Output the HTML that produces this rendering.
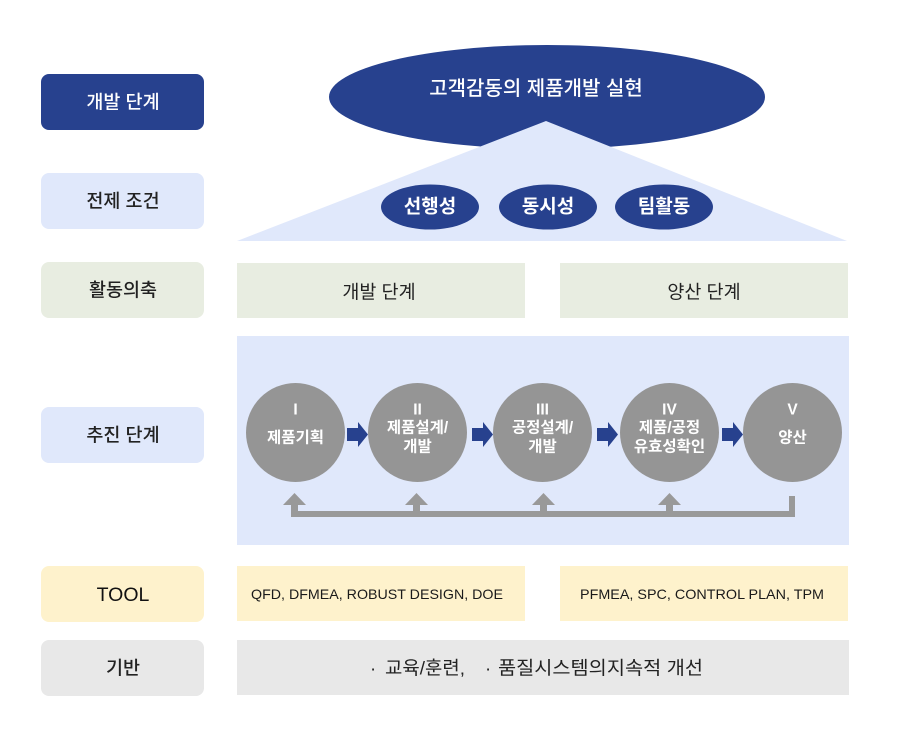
<!DOCTYPE html>
<html>
<head>
<meta charset="utf-8">
<style>
  html,body{margin:0;padding:0;background:#fff;}
  svg{display:block;}
  text{font-family:"Liberation Sans","Noto Sans CJK KR",sans-serif;}
</style>
</head>
<body>
<svg width="898" height="733" viewBox="0 0 898 733" xmlns="http://www.w3.org/2000/svg">
  <!-- left labels -->
  <rect x="41" y="74" width="163" height="56" rx="8" fill="#27418e"/>
  <rect x="41" y="173" width="163" height="56" rx="8" fill="#e0e8fb"/>
  <rect x="41" y="262" width="163" height="56" rx="8" fill="#e8ede1"/>
  <rect x="41" y="407" width="163" height="56" rx="8" fill="#e0e8fb"/>
  <rect x="41" y="566" width="163" height="56" rx="8" fill="#fef2cc"/>
  <rect x="41" y="640" width="163" height="56" rx="8" fill="#e8e8e8"/>
  <g font-size="18.5" text-anchor="middle" dominant-baseline="central" font-weight="500">
    <text x="123" y="102" fill="#ffffff">개발 단계</text>
    <text x="123" y="201" fill="#222">전제 조건</text>
    <text x="123" y="290" fill="#222">활동의축</text>
    <text x="123" y="435" fill="#222">추진 단계</text>
    <text x="123" y="595" fill="#111" font-size="19.5">TOOL</text>
    <text x="123" y="668" fill="#222">기반</text>
  </g>

  <!-- top ellipse + triangle -->
  <ellipse cx="547" cy="97" rx="218" ry="52" fill="#27418e"/>
  <polygon points="546,121 237,241 847,241" fill="#e0e8fb"/>
  <text x="536" y="89" fill="#fff" font-size="20" text-anchor="middle" dominant-baseline="central" font-weight="500">고객감동의 제품개발 실현</text>

  <ellipse cx="430" cy="207" rx="49" ry="22.5" fill="#27418e"/>
  <ellipse cx="548" cy="207" rx="49" ry="22.5" fill="#27418e"/>
  <ellipse cx="664" cy="207" rx="49" ry="22.5" fill="#27418e"/>
  <g font-size="19" fill="#fff" text-anchor="middle" dominant-baseline="central" font-weight="bold">
    <text x="430" y="207">선행성</text>
    <text x="548" y="207">동시성</text>
    <text x="664" y="207">팀활동</text>
  </g>

  <!-- activity axis -->
  <rect x="237" y="263" width="288" height="55" fill="#e8ede1"/>
  <rect x="560" y="263" width="288" height="55" fill="#e8ede1"/>
  <g font-size="18.5" fill="#222" text-anchor="middle" dominant-baseline="central">
    <text x="379" y="292">개발 단계</text>
    <text x="704" y="292">양산 단계</text>
  </g>

  <!-- process box -->
  <rect x="237" y="336" width="612" height="209" fill="#e0e8fb"/>
  <g fill="#959595">
    <circle cx="295.5" cy="432.5" r="49.5"/>
    <circle cx="417.5" cy="432.5" r="49.5"/>
    <circle cx="542.5" cy="432.5" r="49.5"/>
    <circle cx="669.5" cy="432.5" r="49.5"/>
    <circle cx="792.5" cy="432.5" r="49.5"/>
  </g>
  <!-- blue arrows -->
  <g fill="#27418e">
    <path d="M347,428 H358 V422 L368,434.5 L358,447 V441 H347 Z"/>
    <path d="M472,428 H483 V422 L493,434.5 L483,447 V441 H472 Z"/>
    <path d="M597,428 H608 V422 L618,434.5 L608,447 V441 H597 Z"/>
    <path d="M722,428 H733 V422 L743,434.5 L733,447 V441 H722 Z"/>
  </g>
  <g font-size="15.5" fill="#fff" text-anchor="middle" dominant-baseline="central" font-weight="bold">
    <text x="295.5" y="410">I</text>
    <text x="295.5" y="438">제품기획</text>
    <text x="417.5" y="410">II</text>
    <text x="417.5" y="428">제품설계/</text>
    <text x="417.5" y="447">개발</text>
    <text x="542.5" y="410">III</text>
    <text x="542.5" y="428">공정설계/</text>
    <text x="542.5" y="447">개발</text>
    <text x="669.5" y="410">IV</text>
    <text x="669.5" y="428">제품/공정</text>
    <text x="669.5" y="447">유효성확인</text>
    <text x="792.5" y="410">V</text>
    <text x="792.5" y="438">양산</text>
  </g>
  <!-- feedback line -->
  <g fill="#999999">
    <rect x="291" y="511" width="504" height="6"/>
    <rect x="789" y="496" width="6" height="21"/>
    <rect x="291" y="504" width="7" height="10"/>
    <polygon points="294.5,493 283,505 306,505"/>
    <rect x="413" y="504" width="7" height="10"/>
    <polygon points="416.5,493 405,505 428,505"/>
    <rect x="540" y="504" width="7" height="10"/>
    <polygon points="543.5,493 532,505 555,505"/>
    <rect x="666" y="504" width="7" height="10"/>
    <polygon points="669.5,493 658,505 681,505"/>
  </g>

  <!-- TOOL -->
  <rect x="237" y="566" width="288" height="55" fill="#fef2cc"/>
  <rect x="560" y="566" width="288" height="55" fill="#fef2cc"/>
  <g font-size="14" fill="#1a1a1a" text-anchor="middle" dominant-baseline="central">
    <text x="377" y="594" textLength="252" lengthAdjust="spacingAndGlyphs">QFD, DFMEA, ROBUST DESIGN, DOE</text>
    <text x="702" y="594" textLength="244" lengthAdjust="spacingAndGlyphs">PFMEA, SPC, CONTROL PLAN, TPM</text>
  </g>

  <!-- base -->
  <rect x="237" y="640" width="612" height="55" fill="#e8e8e8"/>
  <g font-size="18.5" fill="#222" dominant-baseline="central">
    <text x="370" y="668">·</text>
    <text x="385" y="668" textLength="80" lengthAdjust="spacingAndGlyphs">교육/훈련,</text>
    <text x="485" y="668">·</text>
    <text x="498" y="668" textLength="205" lengthAdjust="spacingAndGlyphs">품질시스템의지속적 개선</text>
  </g>
</svg>
</body>
</html>
